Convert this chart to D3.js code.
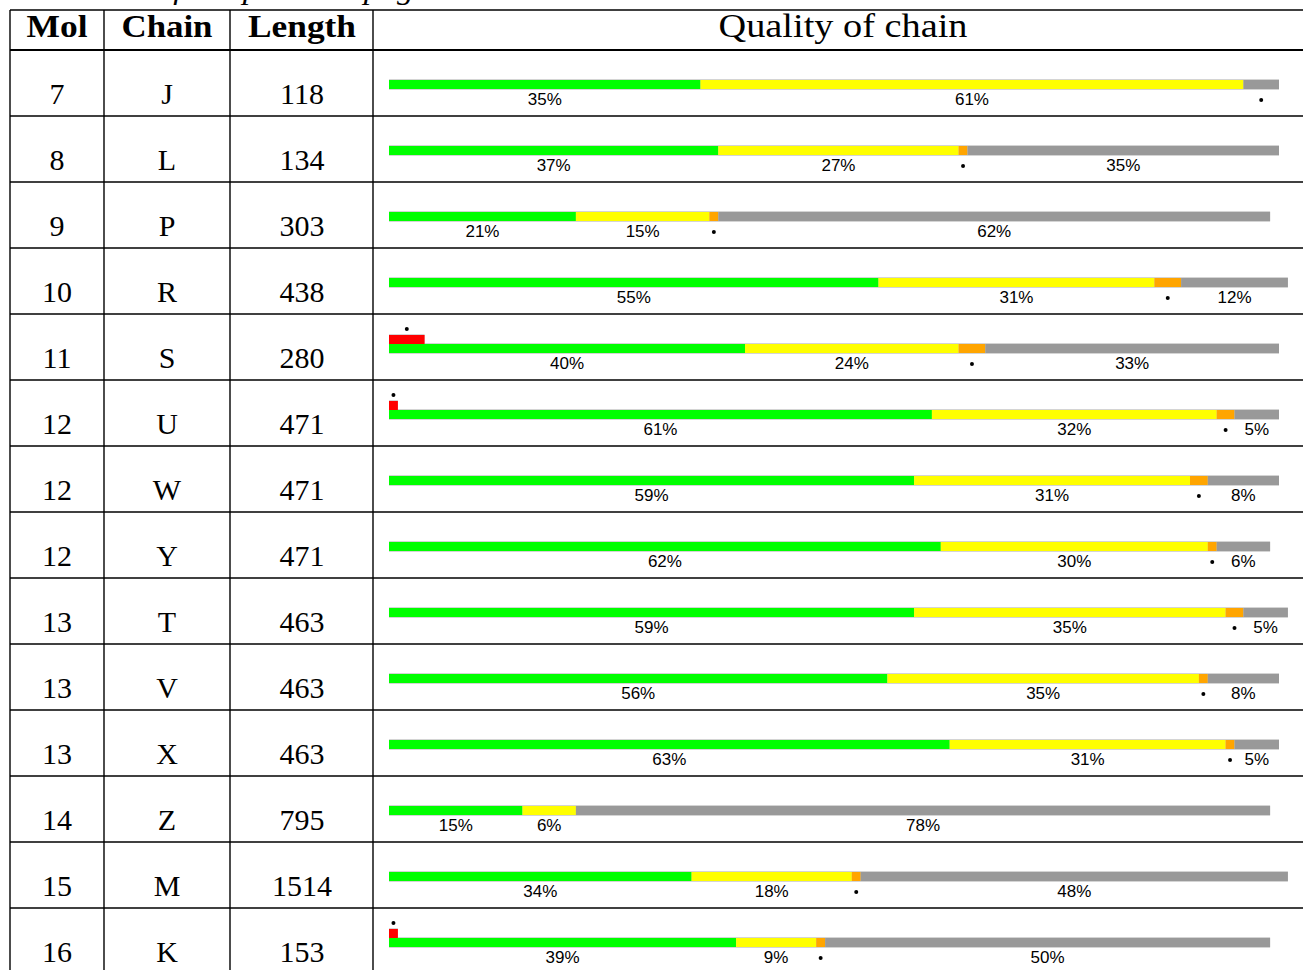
<!DOCTYPE html>
<html>
<head>
<meta charset="utf-8">
<script src="https://cdn.jsdelivr.net/npm/d3@7"></script>
<style>
  html, body { margin: 0; padding: 0; background: #fff; }
  svg { display: block; }
</style>
</head>
<body>
<div id="chart"></div>
<script>
// ---- data ----
const caption = "Continued from previous page...";
const headers = ["Mol", "Chain", "Length", "Quality of chain"];
const mols = ["7", "8", "9", "10", "11", "12", "12", "12", "13", "13", "13", "14", "15", "16"];
const chains = ["J", "L", "P", "R", "S", "U", "W", "Y", "T", "V", "X", "Z", "M", "K"];
const lengths = [118, 134, 303, 438, 280, 471, 471, 471, 463, 463, 463, 795, 1514, 153];
const greenPct = [35, 37, 21, 55, 40, 61, 59, 62, 59, 56, 63, 15, 34, 39];
const yellowPct = [61, 27, 15, 31, 24, 32, 31, 30, 35, 35, 31, 6, 18, 9];
const orangePct = [0, 1, 1, 3, 3, 2, 2, 1, 2, 1, 1, 0, 1, 1];
const greyPct = [4, 35, 62, 12, 33, 5, 8, 6, 5, 8, 5, 78, 48, 50];
const redPct = [0, 0, 0, 0, 4, 1, 0, 0, 0, 0, 0, 0, 0, 1];
const segmentNames = ["green", "yellow", "orange", "grey"];

// ---- layout ----
const W = 1303, H = 970;
const tableLeft = 10, tableTop = 10, headerBottom = 50, rowH = 66;
const colLines = [10, 104, 230, 373];
const colCenters = [57, 167, 302];
const colors = { green: "#00ff00", yellow: "#ffff00", orange: "#ffa500", grey: "#999999", red: "#ff0000" };
const serif = "'Liberation Serif', 'Times New Roman', serif";
const sans = "'Liberation Sans', Arial, Helvetica, sans-serif";

const svg = d3.select("#chart").append("svg").attr("width", W).attr("height", H);

const rows = mols.map((m, i) => ({
  mol: m, chain: chains[i], length: lengths[i],
  segs: [greenPct[i], yellowPct[i], orangePct[i], greyPct[i]],
  red: redPct[i]
}));

const y = d3.scaleBand().domain(d3.range(rows.length)).range([headerBottom, headerBottom + rowH * rows.length]).paddingInner(0).paddingOuter(0);
const x = d3.scaleLinear().domain([0, 100]).range([389, 1279]);

// caption (cut off at top)
svg.append("text")
  .attr("x", 27).attr("y", -1)
  .attr("font-family", serif).attr("font-style", "italic").attr("font-size", 30)
  .attr("textLength", 426).attr("lengthAdjust", "spacingAndGlyphs")
  .text(caption);

// header texts
const headerX = [57, 167, 302, 843];
const headerLen = [61, 91, 108, 249];
const headerSize = [31, 31, 31, 34];
svg.selectAll("text.hdr").data(headers).enter().append("text")
  .attr("class", "hdr")
  .attr("x", (d, i) => headerX[i]).attr("y", 37)
  .attr("text-anchor", "middle")
  .attr("font-family", serif)
  .attr("font-weight", (d, i) => i < 3 ? "bold" : "normal")
  .attr("font-size", (d, i) => headerSize[i])
  .attr("textLength", (d, i) => headerLen[i]).attr("lengthAdjust", "spacingAndGlyphs")
  .attr("fill", "#000")
  .text(d => d);

// grid lines
const gl = svg.append("g").attr("stroke", "#000").attr("fill", "none");
gl.append("line").attr("x1", tableLeft).attr("x2", W).attr("y1", tableTop).attr("y2", tableTop).attr("stroke-width", 1.4);
gl.append("line").attr("x1", tableLeft).attr("x2", W).attr("y1", headerBottom).attr("y2", headerBottom).attr("stroke-width", 2);
rows.forEach((r, i) => {
  if (i > 0) gl.append("line").attr("x1", tableLeft).attr("x2", W)
    .attr("y1", y(i)).attr("y2", y(i)).attr("stroke-width", 1.4);
});
colLines.forEach(cx => {
  gl.append("line").attr("x1", cx).attr("x2", cx).attr("y1", tableTop).attr("y2", H).attr("stroke-width", 1.4);
});

// rows
const rowG = svg.selectAll("g.row").data(rows).enter().append("g")
  .attr("class", "row")
  .attr("transform", (d, i) => `translate(0,${y(i)})`);

rowG.each(function (d) {
  const g = d3.select(this);
  [d.mol, d.chain, String(d.length)].forEach((t, k) => {
    g.append("text").attr("x", colCenters[k]).attr("y", 54)
      .attr("text-anchor", "middle").attr("font-family", serif).attr("font-size", 30)
      .attr("fill", "#000").text(t);
  });

  // stacked bar
  let cum = 0;
  const segs = d.segs.map((v, k) => { const s = { name: segmentNames[k], v, x0: cum, x1: cum + v }; cum += v; return s; })
    .filter(s => s.v > 0);
  const barTop = 30, barH = 9;
  g.append("rect").attr("x", x(0)).attr("y", barTop - 1).attr("width", x(cum) - x(0)).attr("height", barH + 2)
    .attr("fill", "#d4d4d4");
  g.selectAll("rect.seg").data(segs).enter().append("rect")
    .attr("class", "seg")
    .attr("x", s => x(s.x0)).attr("y", barTop)
    .attr("width", s => x(s.x1) - x(s.x0)).attr("height", barH)
    .attr("fill", s => colors[s.name]);

  segs.forEach(s => {
    const cx = (x(s.x0) + x(s.x1)) / 2;
    if (s.v < 5) {
      g.append("circle").attr("cx", cx).attr("cy", 50).attr("r", 2).attr("fill", "#000");
    } else {
      g.append("text").attr("x", cx).attr("y", 55).attr("text-anchor", "middle")
        .attr("font-family", sans).attr("font-size", 17).attr("fill", "#000").text(s.v + "%");
    }
  });

  if (d.red > 0) {
    g.append("rect").attr("x", x(0)).attr("y", barTop - barH - 1).attr("width", x(d.red) - x(0)).attr("height", barH + 1)
      .attr("fill", "#d4d4d4");
    g.append("rect").attr("x", x(0)).attr("y", barTop - barH).attr("width", x(d.red) - x(0)).attr("height", barH)
      .attr("fill", colors.red);
    if (d.red < 5) {
      g.append("circle").attr("cx", (x(0) + x(d.red)) / 2).attr("cy", 15).attr("r", 2).attr("fill", "#000");
    } else {
      g.append("text").attr("x", (x(0) + x(d.red)) / 2).attr("y", 16).attr("text-anchor", "middle")
        .attr("font-family", sans).attr("font-size", 17).text(d.red + "%");
    }
  }
});
</script>
</body>
</html>
